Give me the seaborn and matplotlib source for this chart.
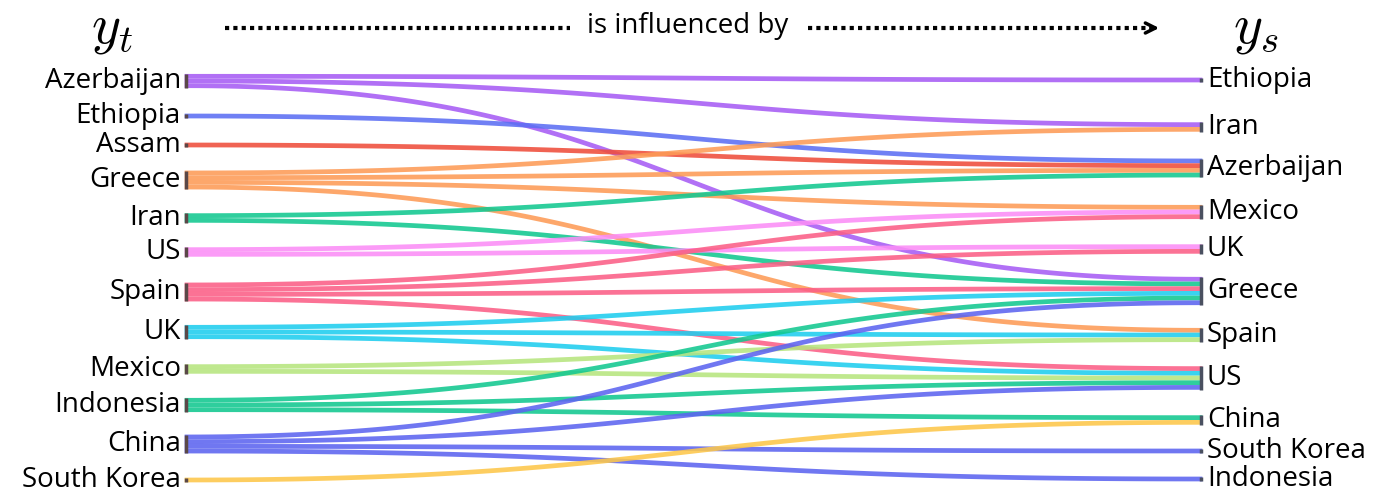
import numpy as np
import pandas as pd
import seaborn as sns
from matplotlib import pyplot as plt

# Nodes on each side (top to bottom) with their vertical centres
left_nodes = ['Azerbaijan', 'Ethiopia', 'Assam', 'Greece', 'Iran', 'US', 'Spain',
              'UK', 'Mexico', 'Indonesia', 'China', 'South Korea']
left_pos = [81, 116, 145, 180, 218, 252, 292, 332, 369, 405, 444, 480]

right_nodes = ['Ethiopia', 'Iran', 'Azerbaijan', 'Mexico', 'UK', 'Greece', 'Spain',
               'US', 'China', 'South Korea', 'Indonesia']
right_pos = [80, 127, 168, 212, 249, 291, 335, 378, 420, 451, 479]

# links: source (y_t) -> target (y_s)
sources = ['Azerbaijan', 'Azerbaijan', 'Azerbaijan',
           'Ethiopia', 'Assam',
           'Greece', 'Greece', 'Greece', 'Greece',
           'Iran', 'Iran',
           'US', 'US',
           'Spain', 'Spain', 'Spain', 'Spain',
           'UK', 'UK', 'UK',
           'Mexico', 'Mexico',
           'Indonesia', 'Indonesia', 'Indonesia',
           'China', 'China', 'China', 'China',
           'South Korea']
targets = ['Ethiopia', 'Iran', 'Greece',
           'Azerbaijan', 'Azerbaijan',
           'Iran', 'Azerbaijan', 'Mexico', 'Spain',
           'Azerbaijan', 'Greece',
           'Mexico', 'UK',
           'Mexico', 'UK', 'Greece', 'US',
           'Greece', 'Spain', 'US',
           'Spain', 'US',
           'Greece', 'US', 'China',
           'Greece', 'US', 'South Korea', 'Indonesia',
           'China']

colors = {'Azerbaijan': '#a65cf4', 'Ethiopia': '#5c6ef3', 'Assam': '#ef4d3b',
          'Greece': '#fd9b57', 'Iran': '#12c890', 'US': '#fb8df6',
          'Spain': '#fb5f86', 'UK': '#1fcdee', 'Mexico': '#b6e57f',
          'Indonesia': '#12c890', 'China': '#5c64f0', 'South Korea': '#fdc74a'}

step = 4.7
x0, x1 = 187, 1200

links = pd.DataFrame({'source': sources, 'target': targets})
lpos = dict(zip(left_nodes, left_pos))
rpos = dict(zip(right_nodes, right_pos))
lrank = {n: i for i, n in enumerate(left_nodes)}
rrank = {n: i for i, n in enumerate(right_nodes)}

# stack the links inside each node band
links['y0'] = 0.0
links['y1'] = 0.0
for n, g in links.groupby('source'):
    g = g.sort_values('target', key=lambda s: s.map(rrank))
    k = len(g)
    for j, idx in enumerate(g.index):
        links.loc[idx, 'y0'] = lpos[n] + (j - (k - 1) / 2) * step
for n, g in links.groupby('target'):
    g = g.sort_values('source', key=lambda s: s.map(lrank))
    k = len(g)
    for j, idx in enumerate(g.index):
        links.loc[idx, 'y1'] = rpos[n] + (j - (k - 1) / 2) * step

# bezier curves
t = np.linspace(0, 1, 120)
rows = []
for i, r in links.iterrows():
    xm = (x0 + x1) / 2
    bx = (1 - t)**3 * x0 + 3 * (1 - t)**2 * t * xm + 3 * (1 - t) * t**2 * xm + t**3 * x1
    by = (1 - t)**3 * r.y0 + 3 * (1 - t)**2 * t * r.y0 + 3 * (1 - t) * t**2 * r.y1 + t**3 * r.y1
    rows.append(pd.DataFrame({'x': bx, 'y': by, 'link': i, 'source': r.source}))
curves = pd.concat(rows, ignore_index=True)

plt.rcParams['mathtext.fontset'] = 'cm'
fig = plt.figure(figsize=(13.81, 5.0), dpi=100)
ax = fig.add_axes([0, 0, 1, 1])
sns.lineplot(data=curves, x='x', y='y', hue='source', units='link', estimator=None,
             sort=False, palette=colors, lw=3.4, alpha=0.88, legend=False, ax=ax)

font = 'Open Sans'
for n, y in zip(left_nodes, left_pos):
    k = (links.source == n).sum()
    h = k * step
    ax.plot([x0 - 1, x0 - 1], [y - h / 2, y + h / 2], color='#5a4848', lw=2.5, solid_capstyle='butt')
    ax.text(x0 - 6, y, n, ha='right', va='center', fontsize=20, family=font)
for n, y in zip(right_nodes, right_pos):
    k = (links.target == n).sum()
    h = k * step
    ax.plot([x1 + 1, x1 + 1], [y - h / 2, y + h / 2], color='#4a5060', lw=2.5, solid_capstyle='butt')
    ax.text(x1 + 7, y, n, ha='left', va='center', fontsize=20, family=font)

# header
ax.text(112, 29, r'$y_t$', ha='center', va='center', fontsize=40)
ax.text(1256, 29, r'$y_s$', ha='center', va='center', fontsize=40)
ax.plot([225, 570], [28, 28], color='black', lw=3, linestyle=(0, (1, 1)))
ax.text(688, 26, 'is influenced by', ha='center', va='center', fontsize=20, family=font)
ax.plot([808, 1150], [28, 28], color='black', lw=3, linestyle=(0, (1, 1)))
ax.annotate('', xy=(1162, 28), xytext=(1148, 28),
            arrowprops=dict(arrowstyle='->', lw=2.5, color='black', mutation_scale=18))

ax.set_xlim(0, 1381)
ax.set_ylim(500, 0)
ax.axis('off')
fig.savefig('out.png', dpi=100)
